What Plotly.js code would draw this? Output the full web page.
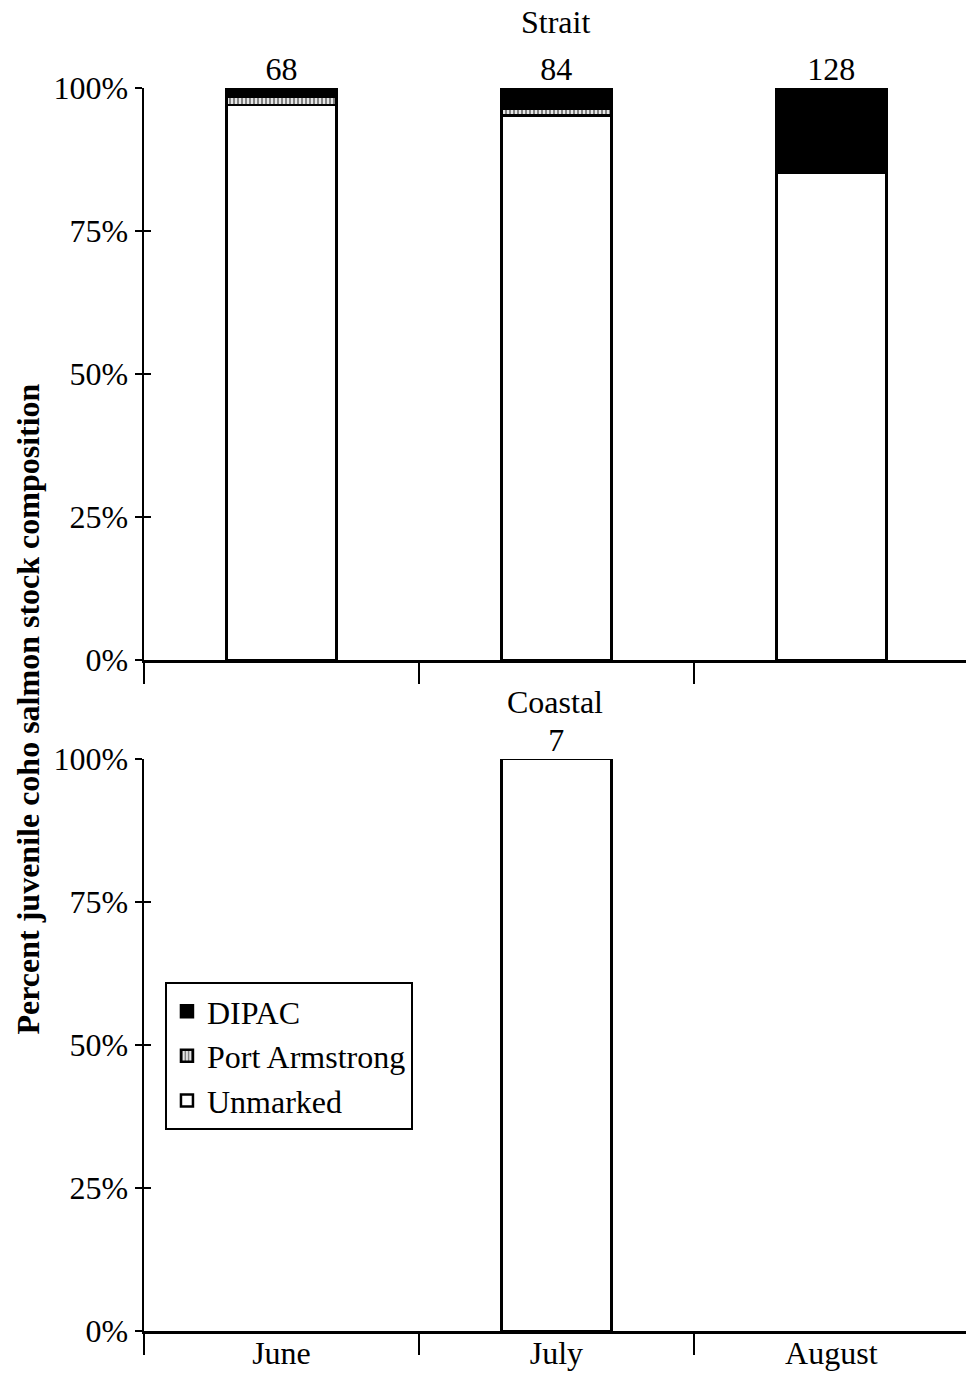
<!DOCTYPE html>
<html><head><meta charset="utf-8">
<script src="https://cdn.plot.ly/plotly-3.0.1.min.js"></script>
<style>html,body{margin:0;padding:0;background:#fff}</style>
</head><body>
<div id="chart" style="width:966px;height:1373px"></div>
<script>
// Data (percent of sample)
const months = ["June", "July", "August"];
const straitDIPAC = [1.5, 3.6, 14.8];
const straitPortArmstrong = [1.5, 1.2, 0];
const straitUnmarked = [97.0, 95.2, 85.2];
const straitN = [68, 84, 128];
const coastalDIPAC = [null, 0, null];
const coastalPortArmstrong = [null, 0, null];
const coastalUnmarked = [null, 100, null];
const coastalN = [null, 7, null];
const yTicks = [0, 25, 50, 75, 100];
const yTickText = ["0%", "25%", "50%", "75%", "100%"];

const font = {family: "Liberation Serif, Times New Roman, serif", size: 32, color: "#000"};
const outline = {color: "#000", width: 2.5};
const styles = {
  "Unmarked": {color: "#fff", line: outline},
  "Port Armstrong": {color: "#ddd", line: outline, pattern: {shape: "|", fgcolor: "#777", bgcolor: "#e6e6e6", size: 4, solidity: 0.45}},
  "DIPAC": {color: "#000", line: outline}
};

function bars(vals, name, xa, ya, legend) {
  return {type: "bar", x: months, y: vals, name: name, xaxis: xa, yaxis: ya,
    marker: styles[name], width: 0.4, showlegend: legend, hoverinfo: "skip", legendgroup: name};
}
function labels(ns, xa, ya) {
  return {type: "scatter", mode: "text", x: months, y: ns.map(n => n == null ? null : 100),
    text: ns.map(n => n == null ? "" : String(n)), textposition: "top center",
    textfont: font, xaxis: xa, yaxis: ya, showlegend: false, cliponaxis: false, hoverinfo: "skip"};
}

const data = [
  bars(straitUnmarked, "Unmarked", "x", "y", true),
  bars(straitPortArmstrong, "Port Armstrong", "x", "y", true),
  bars(straitDIPAC, "DIPAC", "x", "y", true),
  bars(coastalUnmarked, "Unmarked", "x2", "y2", false),
  bars(coastalPortArmstrong, "Port Armstrong", "x2", "y2", false),
  bars(coastalDIPAC, "DIPAC", "x2", "y2", false),
  labels(straitN, "x", "y"),
  labels(coastalN, "x2", "y2"),
  {type: "scatter", x: [null], y: [null], xaxis: "x", yaxis: "y3", showlegend: false, hoverinfo: "skip"},
  {type: "scatter", x: [null], y: [null], xaxis: "x2", yaxis: "y4", showlegend: false, hoverinfo: "skip"}
];

const xCommon = {type: "category", categoryarray: months, range: [-0.5, 2.49], showline: true, linecolor: "#000", linewidth: 2.5,
  ticks: "outside", tickson: "boundaries", ticklen: 21, tickwidth: 2, tickcolor: "#000", showgrid: false, zeroline: false,
  tickfont: font, fixedrange: true};
const yCommon = {range: [0, 100], tickmode: "array", tickvals: yTicks, ticktext: yTickText, showline: true, linecolor: "#000", linewidth: 2.5,
  ticks: "outside", ticklen: 7, tickwidth: 2, tickcolor: "#000", showgrid: false, zeroline: false, tickfont: font, fixedrange: true};
const yInner = {range: [0, 100], tickmode: "array", tickvals: yTicks, showticklabels: false, showline: false, ticks: "inside", ticklen: 7,
  tickwidth: 2, tickcolor: "#000", showgrid: false, zeroline: false, side: "left", fixedrange: true};

const layout = {
  width: 966, height: 1373,
  margin: {l: 144, r: 0, t: 88, b: 42},
  paper_bgcolor: "#fff", plot_bgcolor: "rgba(0,0,0,0)",
  font: font,
  barmode: "stack",
  bargap: 0.6,
  xaxis: Object.assign({}, xCommon, {anchor: "y", showticklabels: false}),
  xaxis2: Object.assign({}, xCommon, {anchor: "y2", ticklabelstandoff: -8}),
  yaxis: Object.assign({}, yCommon, {domain: [0.5398, 1], anchor: "x"}),
  yaxis2: Object.assign({}, yCommon, {domain: [0, 0.4602], anchor: "x2"}),
  yaxis3: Object.assign({}, yInner, {overlaying: "y", anchor: "x"}),
  yaxis4: Object.assign({}, yInner, {overlaying: "y2", anchor: "x2"}),
  showlegend: true,
  legend: {x: 0.0255, y: 0.2808, xanchor: "left", yanchor: "top", traceorder: "reversed",
    bordercolor: "#000", borderwidth: 2, bgcolor: "#fff", font: font, itemwidth: 30, tracegroupgap: 0},
  annotations: [
    {text: "Strait", xref: "paper", yref: "paper", x: 0.5, y: 1.0531, showarrow: false, font: font, xanchor: "center", yanchor: "middle"},
    {text: "Coastal", xref: "paper", yref: "paper", x: 0.5, y: 0.506, showarrow: false, font: font, xanchor: "center", yanchor: "middle"},
    {text: "<b>Percent juvenile coho salmon stock composition</b>", xref: "paper", yref: "paper", x: -0.1423, y: 0.5,
      textangle: -90, showarrow: false, font: font, xanchor: "center", yanchor: "middle"}
  ]
};

Plotly.newPlot("chart", data, layout, {staticPlot: true, displayModeBar: false});
</script>
</body></html>
